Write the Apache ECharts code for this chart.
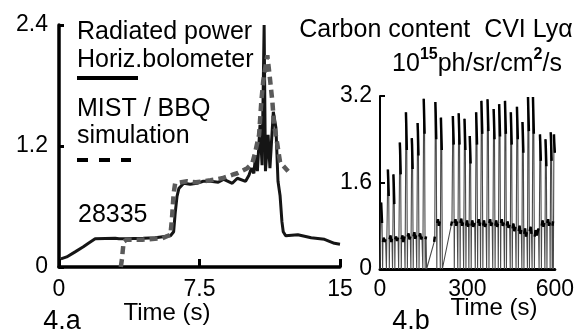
<!DOCTYPE html>
<html>
<head>
<meta charset="utf-8">
<script src="https://cdn.jsdelivr.net/npm/echarts@6/dist/echarts.min.js"></script>
<style>
  html, body { margin: 0; padding: 0; background: #fff; }
  #chart { width: 577px; height: 330px; }
</style>
</head>
<body>
<div id="chart"></div>
<script>
// 4.a radiated power, horizontal bolometer (t in s, value)
const bolometer = [
  [0.1, 0.08], [0.41, 0.10], [0.86, 0.15], [1.3, 0.20], [1.57, 0.235], [1.93, 0.28],
  [3.0, 0.285], [3.1, 0.30], [3.2, 0.28], [3.54, 0.28], [4.5, 0.285], [5.14, 0.29],
  [5.95, 0.31], [6.12, 0.35], [6.2, 0.53], [6.3, 0.70], [6.4, 0.78], [6.66, 0.83],
  [7.0, 0.82], [7.37, 0.83], [7.7, 0.85], [8.09, 0.85], [8.5, 0.84], [8.8, 0.87],
  [9.25, 0.83], [9.52, 0.88], [9.96, 0.85], [10.14, 0.91], [10.27, 0.98], [10.4, 0.93],
  [10.5, 1.11], [10.59, 0.95], [10.73, 1.41], [10.84, 1.01], [10.95, 2.40], [11.02, 0.95],
  [11.16, 1.31], [11.26, 0.98], [11.44, 1.54], [11.58, 1.38], [11.69, 0.85], [11.8, 0.71],
  [11.9, 0.45], [11.97, 0.35], [12.1, 0.31], [12.75, 0.32], [13.46, 0.29], [14.17, 0.275],
  [14.7, 0.235], [15.0, 0.225]
];
// MIST / BBQ simulation
const simulation = [
  [3.3, 0.0], [3.36, 0.08], [3.45, 0.25], [3.6, 0.27], [4.43, 0.27], [5.5, 0.285],
  [5.95, 0.32], [6.03, 0.48], [6.12, 0.73], [6.2, 0.83], [6.84, 0.85], [7.3, 0.84],
  [8.09, 0.86], [8.7, 0.88], [9.34, 0.92], [9.52, 0.93], [10.05, 0.98], [10.32, 1.03],
  [10.45, 1.12], [10.68, 1.31], [10.8, 1.64], [10.9, 1.84], [11.12, 2.10], [11.26, 1.87],
  [11.39, 1.64], [11.48, 1.41], [11.66, 1.21], [11.8, 1.04], [12.23, 0.95]
];
const powerTicks = { xMax: 15, xStep: 7.5, yMax: 2.4, yStep: 1.2 };

// 4.b carbon CVI Ly-alpha: runs of points; the thin trace joins all of them,
// runs with more than one point are the dense (black) parts
const carbonRuns = [
  [[0, 0]], [[4, 1.23], [5, 1.1], [7, 0.85]], [[9, 0]], [[10, 0.5], [13, 0.58], [16, 0.5], [19, 0.55]], [[22, 0]],
  [[27, 1.84], [28, 1.7], [30, 1.35]], [[32, 0]], [[33, 0.55], [36, 0.62], [39, 0.5], [41, 0.56]], [[43, 0]],
  [[46, 1.75], [47, 1.6], [49, 1.2]], [[51, 0]], [[52, 0.55], [55, 0.6], [58, 0.52], [62, 0.58]], [[64, 0]],
  [[68, 2.34], [69, 2.2], [71, 1.75]], [[73, 0]], [[74, 0.55], [77, 0.62], [80, 0.5], [84, 0.6]], [[86, 0]],
  [[89, 2.9], [90, 2.7], [92, 2.2]], [[94, 0]], [[95, 0.6], [98, 0.66], [101, 0.55], [104, 0.6]], [[106, 0]],
  [[109, 2.42], [110, 2.3], [112, 1.85]], [[114, 0]], [[115, 0.6], [118, 0.68], [121, 0.56], [124, 0.62]], [[126, 0]],
  [[129, 2.7], [130, 2.55], [132, 2.1]], [[134, 0]], [[135, 0.6], [138, 0.66], [141, 0.55], [144, 0.6]], [[147, 0]],
  [[150, 3.15], [151, 2.95], [153, 2.5]], [[155, 0]], [[156, 0.55], [158, 0.6]], [[160, 0]],
  [[186, 0.5], [188, 0.6]],
  [[190, 3.09], [191, 2.9], [193, 2.4]], [[195, 0]], [[196, 0.85], [199, 0.92], [202, 0.8], [205, 0.88]], [[207, 0]],
  [[209, 2.8], [210, 2.6], [212, 2.2]], [[214, 0]], [[218, 0]],
  [[244, 0.8], [247, 0.88]],
  [[250, 2.83], [251, 2.65], [253, 2.3]], [[255, 0]], [[256, 0.85], [259, 0.92], [262, 0.8], [265, 0.88]], [[267, 0]],
  [[270, 2.88], [271, 2.7], [273, 2.3]], [[275, 0]], [[276, 0.85], [279, 0.93], [282, 0.8], [285, 0.86]], [[287, 0]],
  [[290, 2.78], [291, 2.6], [293, 2.2]], [[295, 0]], [[296, 0.8], [299, 0.9], [302, 0.78], [304, 0.84]], [[305, 0]],
  [[308, 2.46], [309, 2.3], [311, 1.95]], [[313, 0]], [[314, 0.8], [317, 0.9], [320, 0.78], [325, 0.85]], [[327, 0]],
  [[330, 2.9], [331, 2.7], [333, 2.3]], [[335, 0]], [[336, 0.85], [339, 0.92], [342, 0.8], [344, 0.86]], [[345, 0]],
  [[348, 3.11], [349, 2.9], [351, 2.5]], [[353, 0]], [[354, 0.8], [357, 0.9], [360, 0.78], [364, 0.84]], [[366, 0]],
  [[369, 3.14], [370, 2.95], [372, 2.55]], [[374, 0]], [[375, 0.85], [378, 0.92], [381, 0.8], [385, 0.86]], [[387, 0]],
  [[390, 2.96], [391, 2.8], [393, 2.4]], [[395, 0]], [[396, 0.8], [399, 0.9], [402, 0.78], [405, 0.84]], [[406, 0]],
  [[409, 3.05], [410, 2.85], [412, 2.45]], [[414, 0]], [[415, 0.85], [418, 0.92], [421, 0.8], [425, 0.86]], [[427, 0]],
  [[429, 3.11], [430, 2.9], [432, 2.5]], [[434, 0]], [[435, 0.8], [438, 0.88], [441, 0.76], [445, 0.82]], [[447, 0]],
  [[449, 2.9], [450, 2.7], [452, 2.3]], [[454, 0]], [[455, 0.75], [458, 0.84], [461, 0.7], [465, 0.78]], [[467, 0]],
  [[470, 3.0], [471, 2.8], [473, 2.4]], [[475, 0]], [[476, 0.7], [479, 0.8], [482, 0.65], [485, 0.72]], [[487, 0]],
  [[489, 2.72], [490, 2.55], [492, 2.15]], [[494, 0]], [[495, 0.65], [498, 0.75], [501, 0.6], [504, 0.68]], [[506, 0]],
  [[508, 3.18], [509, 2.95], [511, 2.55]], [[513, 0]], [[514, 0.7], [517, 0.78], [520, 0.65]], [[522, 0]],
  [[525, 3.18], [526, 2.95], [528, 2.5]], [[530, 0]], [[531, 0.6], [534, 0.72], [538, 0.62], [544, 0.75]], [[546, 0]],
  [[549, 2.49], [550, 2.35], [552, 2.0]], [[554, 0]], [[555, 0.8], [558, 0.9], [561, 0.78], [564, 0.85]], [[566, 0]],
  [[568, 2.4], [569, 2.25], [571, 1.9]], [[573, 0]], [[574, 0.85], [577, 0.92], [580, 0.8], [583, 0.86]], [[584, 0]],
  [[586, 2.53], [587, 2.4], [589, 2.0]], [[591, 0]], [[592, 0.8], [594, 0.88]], [[595, 0]],
  [[597, 2.49], [598, 2.35], [600, 2.15]]
];
const carbonTicks = { xMax: 600, xStep: 300, yMax: 3.2, yStep: 1.6 };

const FONT = "'Liberation Sans', Arial, sans-serif";

const carbonTrace = carbonRuns.flat();
const carbonDense = [];
carbonRuns.filter((r) => r.length > 1).forEach((r) => {
  carbonDense.push(...r, [r[r.length - 1][0], '-']);
});

const chart = echarts.init(document.getElementById('chart'), null, { renderer: 'canvas' });

const labelStyle = { color: '#000', fontSize: 23, fontFamily: FONT };
const txt = (x, y, text, size, align) => ({
  type: 'text', x, y,
  style: { text, font: size + 'px ' + FONT, fill: '#000', textAlign: align || 'left', textVerticalAlign: 'middle' },
});

chart.setOption({
  animation: false,
  backgroundColor: '#fff',
  grid: [
    { left: 59, top: 25, width: 281, height: 242 },
    { left: 380, top: 96, width: 176, height: 173 },
  ],
  xAxis: [
    {
      gridIndex: 0, type: 'value', min: 0, max: powerTicks.xMax, interval: powerTicks.xStep,
      axisLine: { lineStyle: { color: '#000', width: 3.5 } },
      axisTick: { inside: true, length: 8, lineStyle: { color: '#000', width: 3 } },
      axisLabel: { ...labelStyle, margin: 11, showMinLabel: true, showMaxLabel: true },
      splitLine: { show: false },
    },
    {
      gridIndex: 1, type: 'value', min: 0, max: carbonTicks.xMax, interval: carbonTicks.xStep,
      axisLine: { lineStyle: { color: '#000', width: 3 } },
      axisTick: { show: false },
      axisLabel: { ...labelStyle, margin: 9, showMinLabel: true, showMaxLabel: true },
      splitLine: { show: false },
    },
  ],
  yAxis: [
    {
      gridIndex: 0, type: 'value', min: 0, max: powerTicks.yMax, interval: powerTicks.yStep,
      axisLine: { lineStyle: { color: '#000', width: 3.5 } },
      axisTick: { inside: true, length: 5, lineStyle: { color: '#000', width: 3 } },
      axisLabel: { ...labelStyle, margin: 11 },
      splitLine: { show: false },
    },
    {
      gridIndex: 1, type: 'value', min: 0, max: carbonTicks.yMax, interval: carbonTicks.yStep,
      axisLine: { lineStyle: { color: '#000', width: 2 } },
      axisTick: { inside: true, length: 5, lineStyle: { color: '#000', width: 2 } },
      axisLabel: { ...labelStyle, margin: 8 },
      splitLine: { show: false },
    },
  ],
  series: [
    {
      name: 'Horiz.bolometer', type: 'line', xAxisIndex: 0, yAxisIndex: 0,
      data: bolometer, showSymbol: false, z: 3,
      lineStyle: { color: '#151515', width: 3 },
    },
    {
      name: 'MIST / BBQ simulation', type: 'line', xAxisIndex: 0, yAxisIndex: 0,
      data: simulation, showSymbol: false, z: 4,
      lineStyle: { color: '#5a5a5a', width: 4.5, type: [8, 5] },
    },
    {
      name: 'CVI trace', type: 'line', xAxisIndex: 1, yAxisIndex: 1,
      data: carbonTrace, showSymbol: false, z: 2,
      lineStyle: { color: '#4a4a4a', width: 1.1 },
    },
    {
      name: 'CVI dense', type: 'line', xAxisIndex: 1, yAxisIndex: 1,
      data: carbonDense, showSymbol: false, connectNulls: false, z: 3,
      lineStyle: { color: '#000', width: 2.5 },
    },
  ],
  graphic: [
    txt(77, 32, 'Radiated power', 25),
    txt(77, 60, 'Horiz.bolometer', 25),
    { type: 'line', shape: { x1: 77, y1: 78, x2: 138, y2: 78 }, style: { stroke: '#000', lineWidth: 4 } },
    txt(77, 109, 'MIST / BBQ', 25),
    txt(77, 136, 'simulation', 25),
    { type: 'line', shape: { x1: 77, y1: 160, x2: 131, y2: 160 }, style: { stroke: '#000', lineWidth: 4, lineDash: [11, 11] } },
    txt(78, 215, '28335', 25),
    txt(167, 313, 'Time (s)', 24, 'center'),
    txt(62, 322, '4.a', 27, 'center'),
    txt(436, 30, 'Carbon content  CVI Lyα', 25, 'center'),
    {
      type: 'text', x: 477, y: 62,
      style: {
        text: '{n|10}{s|15}{n|ph/sr/cm}{s|2}{n|/s}',
        textAlign: 'center', textVerticalAlign: 'middle', fill: '#000',
        rich: {
          n: { font: '25px ' + FONT, fill: '#000', verticalAlign: 'bottom', lineHeight: 30 },
          s: { font: 'bold 16px ' + FONT, fill: '#000', verticalAlign: 'top', lineHeight: 30 },
        },
      },
    },
    txt(494, 308, 'Time (s)', 24, 'center'),
    txt(411, 322, '4.b', 27, 'center'),
  ],
});
</script>
</body>
</html>
